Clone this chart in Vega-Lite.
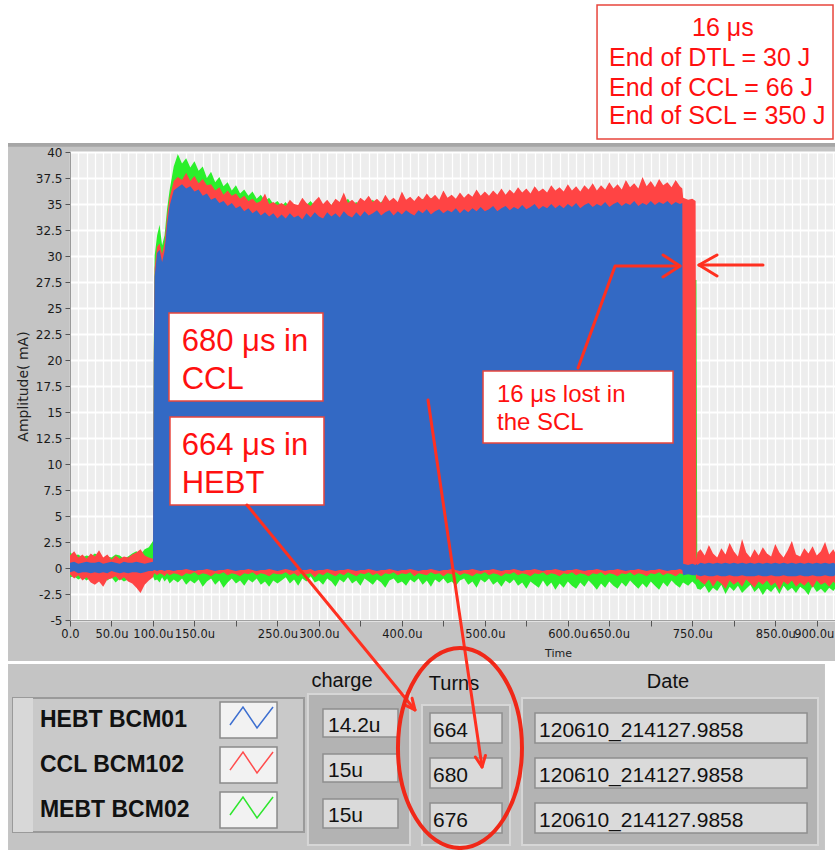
{
  "$schema": "https://vega.github.io/schema/vega-lite/v6.json",
  "width": 765,
  "height": 468,
  "autosize": {"type": "none"},
  "padding": {"left": 70, "top": 152, "right": 0, "bottom": 230},
  "background": "#c4c4c4",
  "config": {"view": {"fill": "#ededed", "stroke": null}},
  "datasets": {
    "g": [
      {"x":0,"y":1.5,"y2":-0.9},{"x":5,"y":1.2,"y2":-0.8},{"x":10,"y":1.3,"y2":-1.1},{"x":15,"y":1.0,"y2":-0.9},{"x":20,"y":1.2,"y2":-1.2},
      {"x":25,"y":1.1,"y2":-0.9},{"x":30,"y":1.4,"y2":-1.0},{"x":35,"y":1.2,"y2":-1.3},{"x":40,"y":0.9,"y2":-1.0},{"x":45,"y":1.1,"y2":-1.2},
      {"x":50,"y":1.0,"y2":-0.9},{"x":55,"y":1.3,"y2":-1.4},{"x":60,"y":1.2,"y2":-1.0},{"x":65,"y":0.9,"y2":-1.3},{"x":70,"y":1.1,"y2":-1.1},
      {"x":75,"y":1.4,"y2":-1.2},{"x":80,"y":1.6,"y2":-1.4},{"x":85,"y":1.3,"y2":-1.1},{"x":90,"y":1.8,"y2":-1.3},{"x":95,"y":2.0,"y2":-1.0},
      {"x":100,"y":2.6,"y2":-0.8},{"x":101,"y":22.0,"y2":-1.0},{"x":102,"y":30.0,"y2":-1.2},{"x":105,"y":32.0,"y2":-1.1},{"x":108,"y":33.0,"y2":-1.4},
      {"x":111,"y":31.0,"y2":-0.9},{"x":114,"y":32.0,"y2":-1.3},{"x":117,"y":34.5,"y2":-1.0},{"x":120,"y":36.3,"y2":-1.5},{"x":125,"y":38.6,"y2":-1.1},
      {"x":130,"y":39.8,"y2":-1.4},{"x":135,"y":38.9,"y2":-1.0},{"x":140,"y":39.4,"y2":-1.6},{"x":145,"y":38.5,"y2":-1.2},{"x":150,"y":39.1,"y2":-1.5},
      {"x":155,"y":38.2,"y2":-1.1},{"x":160,"y":38.6,"y2":-1.8},{"x":165,"y":37.5,"y2":-1.3},{"x":170,"y":38.1,"y2":-1.0},{"x":175,"y":37.1,"y2":-1.6},
      {"x":180,"y":37.6,"y2":-1.2},{"x":185,"y":36.7,"y2":-1.9},{"x":190,"y":37.1,"y2":-1.4},{"x":195,"y":36.3,"y2":-1.0},{"x":200,"y":36.8,"y2":-1.5},
      {"x":205,"y":36.0,"y2":-1.2},{"x":210,"y":36.4,"y2":-1.7},{"x":215,"y":35.8,"y2":-1.1},{"x":220,"y":36.2,"y2":-1.4},{"x":225,"y":35.5,"y2":-1.0},
      {"x":230,"y":35.9,"y2":-1.6},{"x":235,"y":35.3,"y2":-1.3},{"x":240,"y":35.6,"y2":-1.8},{"x":245,"y":35.0,"y2":-1.2},{"x":250,"y":35.3,"y2":-1.5},
      {"x":255,"y":34.8,"y2":-1.2},{"x":260,"y":35.2,"y2":-0.9},{"x":265,"y":34.6,"y2":-1.5},{"x":270,"y":35.0,"y2":-1.1},{"x":275,"y":34.7,"y2":-1.7},
      {"x":280,"y":35.1,"y2":-1.0},{"x":285,"y":34.9,"y2":-1.3},{"x":290,"y":35.3,"y2":-0.8},{"x":295,"y":34.8,"y2":-1.4},{"x":300,"y":35.0,"y2":-1.2},
      {"x":305,"y":34.7,"y2":-1.6},{"x":310,"y":35.2,"y2":-1.0},{"x":315,"y":34.9,"y2":-1.3},{"x":320,"y":35.4,"y2":-1.8},{"x":325,"y":34.8,"y2":-1.1},
      {"x":330,"y":35.1,"y2":-1.4},{"x":335,"y":35.5,"y2":-0.9},{"x":340,"y":34.9,"y2":-1.5},{"x":345,"y":35.2,"y2":-1.2},{"x":350,"y":34.8,"y2":-1.7},
      {"x":355,"y":35.3,"y2":-1.0},{"x":360,"y":35.0,"y2":-1.3},{"x":365,"y":35.4,"y2":-1.6},{"x":370,"y":34.9,"y2":-1.1},{"x":375,"y":35.2,"y2":-1.4},
      {"x":380,"y":35.5,"y2":-1.9},{"x":385,"y":35.0,"y2":-1.2},{"x":390,"y":35.3,"y2":-1.0},{"x":395,"y":35.1,"y2":-1.5},{"x":400,"y":35.4,"y2":-1.3},
      {"x":405,"y":35.0,"y2":-1.7},{"x":410,"y":35.6,"y2":-1.1},{"x":415,"y":35.2,"y2":-1.4},{"x":420,"y":35.0,"y2":-1.0},{"x":425,"y":35.5,"y2":-1.6},
      {"x":430,"y":35.2,"y2":-1.2},{"x":435,"y":35.6,"y2":-1.8},{"x":440,"y":35.3,"y2":-1.1},{"x":445,"y":35.1,"y2":-1.4},{"x":450,"y":35.7,"y2":-1.0},
      {"x":455,"y":35.3,"y2":-1.5},{"x":460,"y":35.5,"y2":-1.3},{"x":465,"y":35.2,"y2":-1.7},{"x":470,"y":35.8,"y2":-1.2},{"x":475,"y":35.4,"y2":-1.0},
      {"x":480,"y":35.6,"y2":-1.6},{"x":485,"y":35.3,"y2":-1.3},{"x":490,"y":35.7,"y2":-1.9},{"x":495,"y":35.5,"y2":-1.1},{"x":500,"y":35.9,"y2":-1.4},
      {"x":505,"y":35.4,"y2":-1.0},{"x":510,"y":35.7,"y2":-1.6},{"x":515,"y":35.5,"y2":-1.3},{"x":520,"y":35.8,"y2":-1.8},{"x":525,"y":35.6,"y2":-1.2},
      {"x":530,"y":35.9,"y2":-1.5},{"x":535,"y":35.5,"y2":-1.1},{"x":540,"y":36.0,"y2":-1.7},{"x":545,"y":35.7,"y2":-1.4},{"x":550,"y":35.9,"y2":-2.0},
      {"x":555,"y":35.6,"y2":-1.3},{"x":560,"y":36.1,"y2":-1.6},{"x":565,"y":35.8,"y2":-1.9},{"x":570,"y":36.0,"y2":-1.2},{"x":575,"y":35.7,"y2":-1.8},
      {"x":580,"y":36.2,"y2":-1.4},{"x":585,"y":35.9,"y2":-2.1},{"x":590,"y":36.1,"y2":-1.5},{"x":595,"y":35.8,"y2":-1.9},{"x":600,"y":36.2,"y2":-1.3},
      {"x":605,"y":35.9,"y2":-1.7},{"x":610,"y":36.3,"y2":-2.0},{"x":615,"y":35.8,"y2":-1.4},{"x":620,"y":36.1,"y2":-1.8},{"x":625,"y":36.0,"y2":-1.2},
      {"x":630,"y":36.3,"y2":-1.6},{"x":635,"y":35.9,"y2":-2.1},{"x":640,"y":36.2,"y2":-1.5},{"x":645,"y":36.0,"y2":-1.9},{"x":650,"y":36.4,"y2":-1.3},
      {"x":655,"y":36.0,"y2":-1.7},{"x":660,"y":36.3,"y2":-2.0},{"x":665,"y":35.9,"y2":-1.4},{"x":670,"y":36.5,"y2":-1.8},{"x":675,"y":36.1,"y2":-1.2},
      {"x":680,"y":36.4,"y2":-1.6},{"x":685,"y":36.0,"y2":-2.0},{"x":690,"y":36.3,"y2":-1.5},{"x":695,"y":36.1,"y2":-1.9},{"x":700,"y":36.5,"y2":-1.3},
      {"x":705,"y":36.0,"y2":-1.7},{"x":710,"y":36.3,"y2":-2.1},{"x":715,"y":36.2,"y2":-1.4},{"x":720,"y":36.4,"y2":-1.8},{"x":725,"y":36.0,"y2":-1.2},
      {"x":730,"y":36.3,"y2":-1.6},{"x":735,"y":35.9,"y2":-1.9},{"x":738,"y":35.7,"y2":-1.5},{"x":739,"y":35.4,"y2":-1.4},{"x":745,"y":28.0,"y2":-1.7},
      {"x":750,"y":27.8,"y2":-1.3},{"x":754,"y":27.7,"y2":-1.6},{"x":755,"y":27.7,"y2":-1.8},{"x":756,"y":0.4,"y2":-2.0},{"x":760,"y":0.6,"y2":-2.1},
      {"x":765,"y":0.8,"y2":-1.7},{"x":770,"y":0.5,"y2":-2.4},{"x":775,"y":0.7,"y2":-1.9},{"x":780,"y":0.9,"y2":-2.2},{"x":785,"y":0.6,"y2":-1.6},
      {"x":790,"y":0.8,"y2":-2.5},{"x":795,"y":0.5,"y2":-1.8},{"x":800,"y":0.7,"y2":-2.2},{"x":805,"y":0.9,"y2":-1.7},{"x":810,"y":0.6,"y2":-2.4},
      {"x":815,"y":0.8,"y2":-2.0},{"x":820,"y":0.5,"y2":-1.6},{"x":825,"y":0.7,"y2":-2.3},{"x":830,"y":0.9,"y2":-1.9},{"x":835,"y":0.6,"y2":-2.6},
      {"x":840,"y":0.8,"y2":-2.0},{"x":845,"y":0.5,"y2":-2.3},{"x":850,"y":0.7,"y2":-1.8},{"x":855,"y":0.9,"y2":-2.5},{"x":860,"y":0.6,"y2":-1.7},
      {"x":865,"y":0.8,"y2":-2.2},{"x":870,"y":0.5,"y2":-1.9},{"x":875,"y":0.7,"y2":-2.4},{"x":880,"y":0.9,"y2":-1.8},{"x":885,"y":0.6,"y2":-2.1},
      {"x":890,"y":0.8,"y2":-2.6},{"x":895,"y":0.5,"y2":-1.7},{"x":900,"y":0.7,"y2":-2.3},{"x":905,"y":0.9,"y2":-2.0},{"x":910,"y":0.6,"y2":-2.4},
      {"x":915,"y":0.8,"y2":-1.9},{"x":920,"y":0.7,"y2":-2.2},{"x":922,"y":0.6,"y2":-2.0}
    ],
    "r": [
      {"x":0,"y":1.2,"y2":-0.6},{"x":5,"y":1.6,"y2":-1.0},{"x":10,"y":1.0,"y2":-0.7},{"x":15,"y":1.3,"y2":-1.2},{"x":20,"y":0.9,"y2":-0.9},
      {"x":25,"y":1.4,"y2":-1.4},{"x":30,"y":1.1,"y2":-1.6},{"x":35,"y":1.7,"y2":-1.3},{"x":40,"y":1.0,"y2":-1.8},{"x":45,"y":1.3,"y2":-1.1},
      {"x":50,"y":0.8,"y2":-1.0},{"x":55,"y":1.2,"y2":-0.8},{"x":60,"y":0.9,"y2":-1.2},{"x":65,"y":1.1,"y2":-0.9},{"x":70,"y":1.0,"y2":-1.3},
      {"x":75,"y":1.3,"y2":-1.5},{"x":80,"y":1.5,"y2":-1.9},{"x":85,"y":1.8,"y2":-2.4},{"x":90,"y":1.2,"y2":-1.6},{"x":95,"y":1.0,"y2":-1.2},
      {"x":100,"y":0.9,"y2":-0.9},{"x":101,"y":21.0,"y2":-0.6},{"x":102,"y":28.8,"y2":-0.5},{"x":105,"y":30.9,"y2":-0.7},{"x":108,"y":31.2,"y2":-0.5},
      {"x":111,"y":30.2,"y2":-0.6},{"x":114,"y":31.3,"y2":-0.8},{"x":117,"y":33.8,"y2":-0.5},{"x":120,"y":35.6,"y2":-0.7},{"x":125,"y":37.2,"y2":-0.5},
      {"x":130,"y":37.6,"y2":-0.6},{"x":135,"y":37.3,"y2":-0.8},{"x":140,"y":38.0,"y2":-0.5},{"x":145,"y":37.2,"y2":-0.6},{"x":150,"y":37.7,"y2":-0.4},
      {"x":155,"y":37.0,"y2":-0.7},{"x":160,"y":37.4,"y2":-0.5},{"x":165,"y":36.8,"y2":-0.6},{"x":170,"y":36.9,"y2":-0.8},{"x":175,"y":36.3,"y2":-0.5},
      {"x":180,"y":36.6,"y2":-0.6},{"x":185,"y":35.9,"y2":-0.4},{"x":190,"y":36.3,"y2":-0.7},{"x":195,"y":35.8,"y2":-0.5},{"x":200,"y":36.0,"y2":-0.6},
      {"x":205,"y":35.5,"y2":-0.8},{"x":210,"y":35.8,"y2":-0.5},{"x":215,"y":35.3,"y2":-0.6},{"x":220,"y":35.5,"y2":-0.4},{"x":225,"y":35.1,"y2":-0.7},
      {"x":230,"y":35.3,"y2":-0.5},{"x":235,"y":36.0,"y2":-0.6},{"x":240,"y":35.0,"y2":-0.8},{"x":245,"y":35.2,"y2":-0.5},{"x":250,"y":34.9,"y2":-0.6},
      {"x":255,"y":35.1,"y2":-0.6},{"x":260,"y":34.8,"y2":-0.4},{"x":265,"y":35.4,"y2":-0.7},{"x":270,"y":35.0,"y2":-0.5},{"x":275,"y":34.9,"y2":-0.8},
      {"x":280,"y":35.6,"y2":-0.4},{"x":285,"y":35.1,"y2":-0.6},{"x":290,"y":34.8,"y2":-0.5},{"x":295,"y":35.3,"y2":-0.9},{"x":300,"y":35.7,"y2":-0.5},
      {"x":305,"y":35.0,"y2":-0.7},{"x":310,"y":35.4,"y2":-0.4},{"x":315,"y":34.9,"y2":-0.6},{"x":320,"y":35.5,"y2":-0.8},{"x":325,"y":35.2,"y2":-0.5},
      {"x":330,"y":36.1,"y2":-0.7},{"x":335,"y":35.1,"y2":-0.4},{"x":340,"y":35.4,"y2":-0.6},{"x":345,"y":35.0,"y2":-0.8},{"x":350,"y":35.6,"y2":-0.5},
      {"x":355,"y":35.3,"y2":-0.6},{"x":360,"y":35.8,"y2":-0.4},{"x":365,"y":35.2,"y2":-0.7},{"x":370,"y":35.5,"y2":-0.5},{"x":375,"y":35.1,"y2":-0.8},
      {"x":380,"y":35.9,"y2":-0.5},{"x":385,"y":35.3,"y2":-0.6},{"x":390,"y":35.6,"y2":-0.4},{"x":395,"y":35.2,"y2":-0.7},{"x":400,"y":36.2,"y2":-0.5},
      {"x":405,"y":35.4,"y2":-0.6},{"x":410,"y":35.7,"y2":-0.4},{"x":415,"y":35.3,"y2":-0.8},{"x":420,"y":35.8,"y2":-0.5},{"x":425,"y":35.4,"y2":-0.6},
      {"x":430,"y":36.0,"y2":-0.7},{"x":435,"y":35.5,"y2":-0.4},{"x":440,"y":35.9,"y2":-0.6},{"x":445,"y":35.4,"y2":-0.5},{"x":450,"y":36.3,"y2":-0.8},
      {"x":455,"y":35.6,"y2":-0.5},{"x":460,"y":35.9,"y2":-0.6},{"x":465,"y":35.5,"y2":-0.4},{"x":470,"y":36.1,"y2":-0.7},{"x":475,"y":35.6,"y2":-0.5},
      {"x":480,"y":36.0,"y2":-0.6},{"x":485,"y":35.7,"y2":-0.8},{"x":490,"y":36.4,"y2":-0.5},{"x":495,"y":35.8,"y2":-0.6},{"x":500,"y":36.2,"y2":-0.4},
      {"x":505,"y":35.8,"y2":-0.7},{"x":510,"y":36.3,"y2":-0.5},{"x":515,"y":35.9,"y2":-0.6},{"x":520,"y":36.5,"y2":-0.8},{"x":525,"y":35.9,"y2":-0.5},
      {"x":530,"y":36.4,"y2":-0.6},{"x":535,"y":36.0,"y2":-0.4},{"x":540,"y":36.6,"y2":-0.7},{"x":545,"y":36.1,"y2":-0.5},{"x":550,"y":36.5,"y2":-0.6},
      {"x":555,"y":36.0,"y2":-0.8},{"x":560,"y":36.7,"y2":-0.5},{"x":565,"y":36.2,"y2":-0.6},{"x":570,"y":36.5,"y2":-0.4},{"x":575,"y":36.1,"y2":-0.7},
      {"x":580,"y":36.8,"y2":-0.5},{"x":585,"y":36.3,"y2":-0.6},{"x":590,"y":36.6,"y2":-0.8},{"x":595,"y":36.2,"y2":-0.5},{"x":600,"y":36.9,"y2":-0.6},
      {"x":605,"y":36.3,"y2":-0.4},{"x":610,"y":36.7,"y2":-0.7},{"x":615,"y":36.2,"y2":-0.5},{"x":620,"y":36.8,"y2":-0.6},{"x":625,"y":36.4,"y2":-0.8},
      {"x":630,"y":37.0,"y2":-0.5},{"x":635,"y":36.3,"y2":-0.6},{"x":640,"y":36.8,"y2":-0.4},{"x":645,"y":36.4,"y2":-0.7},{"x":650,"y":37.1,"y2":-0.5},
      {"x":655,"y":36.5,"y2":-0.6},{"x":660,"y":36.9,"y2":-0.8},{"x":665,"y":36.4,"y2":-0.5},{"x":670,"y":37.3,"y2":-0.6},{"x":675,"y":36.6,"y2":-0.4},
      {"x":680,"y":37.0,"y2":-0.7},{"x":685,"y":36.5,"y2":-0.5},{"x":690,"y":37.6,"y2":-0.6},{"x":695,"y":36.7,"y2":-0.8},{"x":700,"y":37.2,"y2":-0.5},
      {"x":705,"y":36.6,"y2":-0.6},{"x":710,"y":37.4,"y2":-0.4},{"x":715,"y":36.8,"y2":-0.7},{"x":720,"y":37.1,"y2":-0.5},{"x":725,"y":36.6,"y2":-0.6},
      {"x":730,"y":37.3,"y2":-0.8},{"x":735,"y":36.7,"y2":-0.5},{"x":738,"y":36.5,"y2":-0.6},{"x":739,"y":35.6,"y2":-0.5},{"x":745,"y":35.4,"y2":-0.6},
      {"x":750,"y":35.5,"y2":-0.4},{"x":754,"y":35.3,"y2":-0.6},{"x":755,"y":0.8,"y2":-1.2},{"x":756,"y":1.5,"y2":-1.0},{"x":760,"y":1.8,"y2":-1.3},
      {"x":765,"y":1.2,"y2":-1.6},{"x":770,"y":2.2,"y2":-1.1},{"x":775,"y":1.4,"y2":-1.8},{"x":780,"y":1.0,"y2":-1.2},{"x":785,"y":1.9,"y2":-1.5},
      {"x":790,"y":1.3,"y2":-2.0},{"x":795,"y":2.4,"y2":-1.2},{"x":800,"y":1.6,"y2":-1.6},{"x":805,"y":1.1,"y2":-1.3},{"x":810,"y":2.8,"y2":-1.8},
      {"x":815,"y":1.5,"y2":-1.1},{"x":820,"y":1.0,"y2":-1.5},{"x":825,"y":1.8,"y2":-1.9},{"x":830,"y":1.2,"y2":-1.3},{"x":835,"y":2.0,"y2":-1.6},
      {"x":840,"y":1.4,"y2":-1.2},{"x":845,"y":1.1,"y2":-1.7},{"x":850,"y":2.3,"y2":-1.4},{"x":855,"y":1.5,"y2":-2.1},{"x":860,"y":1.0,"y2":-1.3},
      {"x":865,"y":1.7,"y2":-1.6},{"x":870,"y":2.6,"y2":-1.2},{"x":875,"y":1.3,"y2":-1.8},{"x":880,"y":1.1,"y2":-1.4},{"x":885,"y":1.9,"y2":-1.7},
      {"x":890,"y":1.4,"y2":-1.3},{"x":895,"y":2.1,"y2":-1.9},{"x":900,"y":1.2,"y2":-1.2},{"x":905,"y":1.6,"y2":-1.6},{"x":910,"y":2.5,"y2":-1.4},
      {"x":915,"y":1.3,"y2":-1.8},{"x":920,"y":1.8,"y2":-1.3},{"x":922,"y":1.5,"y2":-1.5}
    ],
    "b": [
      {"x":0,"y":0.5,"y2":-0.4},{"x":5,"y":0.6,"y2":-0.3},{"x":10,"y":0.4,"y2":-0.5},{"x":15,"y":0.5,"y2":-0.4},{"x":20,"y":0.6,"y2":-0.4},
      {"x":25,"y":0.5,"y2":-0.5},{"x":30,"y":0.5,"y2":-0.4},{"x":35,"y":0.6,"y2":-0.5},{"x":40,"y":0.4,"y2":-0.4},{"x":45,"y":0.5,"y2":-0.5},
      {"x":50,"y":0.6,"y2":-0.3},{"x":55,"y":0.5,"y2":-0.4},{"x":60,"y":0.4,"y2":-0.5},{"x":65,"y":0.6,"y2":-0.4},{"x":70,"y":0.5,"y2":-0.5},
      {"x":75,"y":0.5,"y2":-0.4},{"x":80,"y":0.6,"y2":-0.4},{"x":85,"y":0.5,"y2":-0.5},{"x":90,"y":0.4,"y2":-0.4},{"x":95,"y":0.5,"y2":-0.3},
      {"x":100,"y":0.6,"y2":-0.3},{"x":101,"y":20.0,"y2":-0.2},{"x":102,"y":28.0,"y2":-0.2},{"x":105,"y":30.3,"y2":-0.3},{"x":108,"y":30.6,"y2":-0.2},
      {"x":111,"y":29.4,"y2":-0.2},{"x":114,"y":30.5,"y2":-0.3},{"x":117,"y":33.0,"y2":-0.2},{"x":120,"y":34.8,"y2":-0.2},{"x":125,"y":36.3,"y2":-0.3},
      {"x":130,"y":36.6,"y2":-0.2},{"x":135,"y":36.9,"y2":-0.2},{"x":140,"y":36.5,"y2":-0.1},{"x":145,"y":36.7,"y2":-0.2},{"x":150,"y":36.2,"y2":-0.3},
      {"x":155,"y":36.4,"y2":-0.2},{"x":160,"y":35.8,"y2":-0.2},{"x":165,"y":36.0,"y2":-0.1},{"x":170,"y":35.4,"y2":-0.2},{"x":175,"y":35.6,"y2":-0.3},
      {"x":180,"y":35.1,"y2":-0.2},{"x":185,"y":35.3,"y2":-0.2},{"x":190,"y":34.8,"y2":-0.1},{"x":195,"y":35.1,"y2":-0.2},{"x":200,"y":34.6,"y2":-0.3},
      {"x":205,"y":34.8,"y2":-0.2},{"x":210,"y":34.3,"y2":-0.2},{"x":215,"y":34.6,"y2":-0.1},{"x":220,"y":34.1,"y2":-0.2},{"x":225,"y":34.4,"y2":-0.3},
      {"x":230,"y":33.9,"y2":-0.2},{"x":235,"y":34.2,"y2":-0.2},{"x":240,"y":33.8,"y2":-0.1},{"x":245,"y":34.1,"y2":-0.2},{"x":250,"y":33.6,"y2":-0.3},
      {"x":255,"y":34.0,"y2":-0.2},{"x":260,"y":33.6,"y2":-0.1},{"x":265,"y":34.1,"y2":-0.2},{"x":270,"y":33.7,"y2":-0.3},{"x":275,"y":33.9,"y2":-0.1},
      {"x":280,"y":33.5,"y2":-0.2},{"x":285,"y":34.1,"y2":-0.2},{"x":290,"y":33.7,"y2":-0.1},{"x":295,"y":34.2,"y2":-0.3},{"x":300,"y":33.8,"y2":-0.2},
      {"x":305,"y":33.6,"y2":-0.2},{"x":310,"y":34.2,"y2":-0.1},{"x":315,"y":33.8,"y2":-0.2},{"x":320,"y":34.1,"y2":-0.3},{"x":325,"y":33.7,"y2":-0.2},
      {"x":330,"y":34.3,"y2":-0.2},{"x":335,"y":33.9,"y2":-0.1},{"x":340,"y":33.7,"y2":-0.2},{"x":345,"y":34.2,"y2":-0.3},{"x":350,"y":33.8,"y2":-0.2},
      {"x":355,"y":34.3,"y2":-0.2},{"x":360,"y":33.9,"y2":-0.1},{"x":365,"y":34.1,"y2":-0.2},{"x":370,"y":34.4,"y2":-0.3},{"x":375,"y":33.9,"y2":-0.2},
      {"x":380,"y":34.2,"y2":-0.2},{"x":385,"y":34.4,"y2":-0.1},{"x":390,"y":33.9,"y2":-0.2},{"x":395,"y":34.3,"y2":-0.3},{"x":400,"y":34.0,"y2":-0.2},
      {"x":405,"y":34.4,"y2":-0.2},{"x":410,"y":34.1,"y2":-0.1},{"x":415,"y":33.9,"y2":-0.2},{"x":420,"y":34.4,"y2":-0.3},{"x":425,"y":34.1,"y2":-0.2},
      {"x":430,"y":34.5,"y2":-0.2},{"x":435,"y":34.0,"y2":-0.1},{"x":440,"y":34.3,"y2":-0.2},{"x":445,"y":34.5,"y2":-0.3},{"x":450,"y":34.1,"y2":-0.2},
      {"x":455,"y":34.4,"y2":-0.2},{"x":460,"y":34.2,"y2":-0.1},{"x":465,"y":34.6,"y2":-0.2},{"x":470,"y":34.1,"y2":-0.3},{"x":475,"y":34.5,"y2":-0.2},
      {"x":480,"y":34.2,"y2":-0.2},{"x":485,"y":34.6,"y2":-0.1},{"x":490,"y":34.3,"y2":-0.2},{"x":495,"y":34.7,"y2":-0.3},{"x":500,"y":34.3,"y2":-0.2},
      {"x":505,"y":34.5,"y2":-0.2},{"x":510,"y":34.8,"y2":-0.1},{"x":515,"y":34.3,"y2":-0.2},{"x":520,"y":34.6,"y2":-0.3},{"x":525,"y":34.8,"y2":-0.2},
      {"x":530,"y":34.4,"y2":-0.2},{"x":535,"y":34.7,"y2":-0.1},{"x":540,"y":34.5,"y2":-0.2},{"x":545,"y":34.9,"y2":-0.3},{"x":550,"y":34.5,"y2":-0.2},
      {"x":555,"y":34.7,"y2":-0.2},{"x":560,"y":35.0,"y2":-0.1},{"x":565,"y":34.5,"y2":-0.2},{"x":570,"y":34.8,"y2":-0.3},{"x":575,"y":34.6,"y2":-0.2},
      {"x":580,"y":35.0,"y2":-0.2},{"x":585,"y":34.6,"y2":-0.1},{"x":590,"y":34.9,"y2":-0.2},{"x":595,"y":34.6,"y2":-0.3},{"x":600,"y":35.0,"y2":-0.2},
      {"x":605,"y":34.7,"y2":-0.2},{"x":610,"y":35.1,"y2":-0.1},{"x":615,"y":34.6,"y2":-0.2},{"x":620,"y":34.9,"y2":-0.3},{"x":625,"y":35.1,"y2":-0.2},
      {"x":630,"y":34.7,"y2":-0.2},{"x":635,"y":35.0,"y2":-0.1},{"x":640,"y":34.8,"y2":-0.2},{"x":645,"y":35.2,"y2":-0.3},{"x":650,"y":34.7,"y2":-0.2},
      {"x":655,"y":35.0,"y2":-0.2},{"x":660,"y":35.2,"y2":-0.1},{"x":665,"y":34.8,"y2":-0.2},{"x":670,"y":35.1,"y2":-0.3},{"x":675,"y":34.9,"y2":-0.2},
      {"x":680,"y":35.3,"y2":-0.2},{"x":685,"y":34.8,"y2":-0.1},{"x":690,"y":35.1,"y2":-0.2},{"x":695,"y":34.9,"y2":-0.3},{"x":700,"y":35.3,"y2":-0.2},
      {"x":705,"y":34.9,"y2":-0.2},{"x":710,"y":35.2,"y2":-0.1},{"x":715,"y":35.0,"y2":-0.2},{"x":720,"y":35.3,"y2":-0.3},{"x":725,"y":34.9,"y2":-0.2},
      {"x":730,"y":35.2,"y2":-0.2},{"x":735,"y":35.0,"y2":-0.1},{"x":738,"y":35.1,"y2":-0.2},{"x":739,"y":0.4,"y2":-0.7},{"x":745,"y":0.3,"y2":-0.6},
      {"x":750,"y":0.4,"y2":-0.7},{"x":754,"y":0.3,"y2":-0.7},{"x":755,"y":0.4,"y2":-0.6},{"x":756,"y":0.3,"y2":-0.7},{"x":760,"y":0.5,"y2":-0.8},
      {"x":765,"y":0.4,"y2":-0.7},{"x":770,"y":0.5,"y2":-0.8},{"x":775,"y":0.4,"y2":-0.8},{"x":780,"y":0.5,"y2":-0.7},{"x":785,"y":0.4,"y2":-0.8},
      {"x":790,"y":0.5,"y2":-0.8},{"x":795,"y":0.4,"y2":-0.7},{"x":800,"y":0.5,"y2":-0.8},{"x":805,"y":0.4,"y2":-0.8},{"x":810,"y":0.5,"y2":-0.7},
      {"x":815,"y":0.4,"y2":-0.8},{"x":820,"y":0.5,"y2":-0.8},{"x":825,"y":0.4,"y2":-0.8},{"x":830,"y":0.5,"y2":-0.7},{"x":835,"y":0.4,"y2":-0.8},
      {"x":840,"y":0.5,"y2":-0.8},{"x":845,"y":0.4,"y2":-0.7},{"x":850,"y":0.5,"y2":-0.8},{"x":855,"y":0.4,"y2":-0.8},{"x":860,"y":0.5,"y2":-0.7},
      {"x":865,"y":0.4,"y2":-0.8},{"x":870,"y":0.5,"y2":-0.8},{"x":875,"y":0.4,"y2":-0.8},{"x":880,"y":0.5,"y2":-0.7},{"x":885,"y":0.4,"y2":-0.8},
      {"x":890,"y":0.5,"y2":-0.8},{"x":895,"y":0.4,"y2":-0.7},{"x":900,"y":0.5,"y2":-0.8},{"x":905,"y":0.4,"y2":-0.8},{"x":910,"y":0.5,"y2":-0.7},
      {"x":915,"y":0.4,"y2":-0.8},{"x":920,"y":0.5,"y2":-0.8},{"x":922,"y":0.4,"y2":-0.7}
    ],
    "white": [
      {"x":-90,"x2":930,"y":40.87,"y2":56},
      {"x":-90,"x2":930,"y":-8.94,"y2":-9.23},
      {"x":909.9,"x2":930,"y":-9.23,"y2":-28},
      {"x":-90,"x2":-74.7,"y":40.87,"y2":-28}
    ],
    "border": [
      {"x":-74.7,"x2":930,"y":40.87,"y2":40.5}
    ],
    "leg": [
      {"x":-68.7,"x2":282.0,"y":-12.5,"y2":-25.38}
    ],
    "legstrip": [
      {"x":-68.7,"x2":-44.6,"y":-12.5,"y2":-25.38}
    ],
    "frames": [
      {"x":286.8,"x2":409.8,"y":-12.12,"y2":-26.63},
      {"x":424.2,"x2":530.3,"y":-13.17,"y2":-26.63},
      {"x":544.8,"x2":901.5,"y":-12.5,"y2":-26.63}
    ],
    "cells": [
      {"x":304.9,"x2":395.3,"y":-13.56,"y2":-16.25},
      {"x":304.9,"x2":395.3,"y":-17.88,"y2":-20.58},
      {"x":304.9,"x2":395.3,"y":-22.21,"y2":-25.0},
      {"x":433.9,"x2":520.7,"y":-13.94,"y2":-16.83},
      {"x":433.9,"x2":520.7,"y":-18.27,"y2":-21.15},
      {"x":433.9,"x2":520.7,"y":-22.6,"y2":-25.48},
      {"x":560.4,"x2":888.3,"y":-13.94,"y2":-16.83},
      {"x":560.4,"x2":888.3,"y":-18.27,"y2":-21.15},
      {"x":560.4,"x2":888.3,"y":-22.6,"y2":-25.48}
    ],
    "swatch": [
      {"x":180.8,"x2":249.5,"y":-12.88,"y2":-16.35},
      {"x":180.8,"x2":249.5,"y":-17.21,"y2":-20.67},
      {"x":180.8,"x2":249.5,"y":-21.54,"y2":-25.0}
    ],
    "zig": [
      {"s":"HEBT BCM01","o":1,"x":192.8,"y":-15.10},
      {"s":"HEBT BCM01","o":2,"x":208.5,"y":-13.37},
      {"s":"HEBT BCM01","o":3,"x":225.4,"y":-15.38},
      {"s":"HEBT BCM01","o":4,"x":244.7,"y":-13.37},
      {"s":"CCL BCM102","o":1,"x":192.8,"y":-19.43},
      {"s":"CCL BCM102","o":2,"x":208.5,"y":-17.70},
      {"s":"CCL BCM102","o":3,"x":225.4,"y":-19.71},
      {"s":"CCL BCM102","o":4,"x":244.7,"y":-17.70},
      {"s":"MEBT BCM02","o":1,"x":192.8,"y":-23.75},
      {"s":"MEBT BCM02","o":2,"x":208.5,"y":-22.02},
      {"s":"MEBT BCM02","o":3,"x":225.4,"y":-24.03},
      {"s":"MEBT BCM02","o":4,"x":244.7,"y":-22.02}
    ],
    "lab": [
      {"x":-36.2,"y":-15.29,"label":"HEBT BCM01"},
      {"x":-36.2,"y":-19.62,"label":"CCL BCM102"},
      {"x":-36.2,"y":-23.94,"label":"MEBT BCM02"}
    ],
    "hdr": [
      {"x":327.8,"y":-11.44,"label":"charge"},
      {"x":462.8,"y":-11.73,"label":"Turns"},
      {"x":720.7,"y":-11.54,"label":"Date"}
    ],
    "val": [
      {"x":310.9,"y":-15.77,"label":"14.2u"},
      {"x":310.9,"y":-20.10,"label":"15u"},
      {"x":310.9,"y":-24.42,"label":"15u"},
      {"x":437.5,"y":-16.25,"label":"664"},
      {"x":437.5,"y":-20.58,"label":"680"},
      {"x":437.5,"y":-24.9,"label":"676"},
      {"x":565.3,"y":-16.25,"label":"120610_214127.9858"},
      {"x":565.3,"y":-20.58,"label":"120610_214127.9858"},
      {"x":565.3,"y":-24.9,"label":"120610_214127.9858"}
    ],
    "box": [
      {"x":119.3,"x2":304.9,"y":24.52,"y2":16.06},
      {"x":120.5,"x2":306.1,"y":14.52,"y2":6.06},
      {"x":497.8,"x2":726.8,"y":18.94,"y2":12.02},
      {"x":635.2,"x2":919.6,"y":54.13,"y2":41.25}
    ],
    "t31": [
      {"x":134.6,"y":20.87,"label":"680 μs in"},
      {"x":134.6,"y":17.21,"label":"CCL"},
      {"x":134.6,"y":10.87,"label":"664 μs in"},
      {"x":134.6,"y":7.21,"label":"HEBT"}
    ],
    "t24": [
      {"x":514.6,"y":15.96,"label":"16 μs lost in"},
      {"x":514.6,"y":13.27,"label":"the SCL"}
    ],
    "t25": [
      {"x":749.7,"y":51.15,"label":"16 μs"},
      {"x":649.6,"y":48.27,"label":"End of DTL = 30 J"},
      {"x":649.6,"y":45.38,"label":"End of CCL = 66 J"},
      {"x":649.6,"y":42.69,"label":"End of SCL = 350 J"}
    ],
    "arr": [
      {"seg":"A","o":1,"x":213.3,"y":6.06},
      {"seg":"A","o":2,"x":415.8,"y":-13.65},
      {"seg":"Ah","o":1,"x":412.3,"y":-12.53},
      {"seg":"Ah","o":2,"x":415.8,"y":-13.65},
      {"seg":"Ah","o":3,"x":402.8,"y":-13.14},
      {"seg":"B","o":1,"x":431.5,"y":16.15},
      {"seg":"B","o":2,"x":496.6,"y":-19.13},
      {"seg":"Bh","o":1,"x":500.7,"y":-18.03},
      {"seg":"Bh","o":2,"x":496.6,"y":-19.13},
      {"seg":"Bh","o":3,"x":488.6,"y":-18.17},
      {"seg":"C","o":1,"x":612.3,"y":19.23},
      {"seg":"C","o":2,"x":656.9,"y":29.04},
      {"seg":"C","o":3,"x":735.2,"y":29.04},
      {"seg":"Ch","o":1,"x":714.7,"y":30.10},
      {"seg":"Ch","o":2,"x":735.2,"y":29.04},
      {"seg":"Ch","o":3,"x":714.7,"y":27.98},
      {"seg":"D","o":1,"x":835.2,"y":29.13},
      {"seg":"D","o":2,"x":758.1,"y":29.13},
      {"seg":"Dh","o":1,"x":779.8,"y":30.10},
      {"seg":"Dh","o":2,"x":758.1,"y":29.13},
      {"seg":"Dh","o":3,"x":779.8,"y":28.08}
    ],
    "ell": [
      {"x":470.0,"y":-17.31}
    ]
  },
  "encoding": {
    "x": {
      "field": "x", "type": "quantitative",
      "scale": {"domain": [0, 922], "nice": false, "zero": false},
      "axis": {
        "title": "Time",
        "values": [0,10,20,30,40,50,60,70,80,90,100,110,120,130,140,150,160,170,180,190,200,210,220,230,240,250,260,270,280,290,300,310,320,330,340,350,360,370,380,390,400,410,420,430,440,450,460,470,480,490,500,510,520,530,540,550,560,570,580,590,600,610,620,630,640,650,660,670,680,690,700,710,720,730,740,750,760,770,780,790,800,810,820,830,840,850,860,870,880,890,900,910,920],
        "labelExpr": "indexof([0,50,100,150,250,300,400,500,600,650,750,850,900], datum.value) >= 0 ? (datum.value == 0 ? '0.0' : datum.value + '.0u') : ''",
        "labelOffset": {"condition": {"test": "datum.value == 900", "value": -3}, "value": 0},
        "tickOpacity": {"condition": {"test": "datum.value % 50 === 0", "value": 1}, "value": 0},
        "labelOverlap": false,
        "labelFlush": false,
        "labelBound": false,
        "labelFont": "DejaVu Sans",
        "labelFontSize": 11.5,
        "labelColor": "#1a1a1a",
        "labelPadding": 2,
        "tickSize": 6,
        "tickColor": "#555555",
        "domainColor": "#a0a0a0",
        "grid": true,
        "gridColor": "#ffffff",
        "gridWidth": 1.3,
        "titleFont": "DejaVu Sans",
        "titleFontSize": 11,
        "titleFontWeight": "normal",
        "titleColor": "#222222",
        "titleX": 488,
        "titleY": 27,
        "titleAlign": "center",
        "titleBaseline": "top"
      }
    },
    "y": {
      "field": "y", "type": "quantitative",
      "scale": {"domain": [-5, 40], "nice": false, "zero": false},
      "axis": {
        "title": "Amplitude( mA)",
        "values": [-5,-2.5,0,2.5,5,7.5,10,12.5,15,17.5,20,22.5,25,27.5,30,32.5,35,37.5,40],
        "labelExpr": "'' + datum.value",
        "labelFont": "DejaVu Sans",
        "labelFontSize": 12,
        "labelColor": "#1a1a1a",
        "labelPadding": 3,
        "labelFlush": false,
        "labelOverlap": false,
        "tickSize": 5,
        "tickColor": "#555555",
        "domainColor": "#9a9a9a",
        "grid": true,
        "gridColor": "#ffffff",
        "gridWidth": 2,
        "titleFont": "DejaVu Sans",
        "titleFontSize": 14,
        "titleFontWeight": "normal",
        "titleColor": "#222222",
        "titlePadding": 5
      }
    }
  },
  "layer": [
    {"data": {"name": "white"}, "mark": {"type": "rect", "fill": "#ffffff"},
     "encoding": {"x2": {"field": "x2"}, "y2": {"field": "y2"}}},
    {"data": {"name": "border"}, "mark": {"type": "rect", "fill": "#a6a6a6"},
     "encoding": {"x2": {"field": "x2"}, "y2": {"field": "y2"}}},
    {"data": {"name": "g"}, "mark": {"type": "area", "color": "#2bef2b", "opacity": 1},
     "encoding": {"y2": {"field": "y2"}}},
    {"data": {"name": "r"}, "mark": {"type": "area", "color": "#ff4444", "opacity": 1},
     "encoding": {"y2": {"field": "y2"}}},
    {"data": {"name": "b"}, "mark": {"type": "area", "color": "#3369c4", "opacity": 1},
     "encoding": {"y2": {"field": "y2"}}},
    {"data": {"name": "box"}, "mark": {"type": "rect", "fill": "#ffffff", "stroke": "#e8453c", "strokeWidth": 1.5},
     "encoding": {"x2": {"field": "x2"}, "y2": {"field": "y2"}}},
    {"data": {"name": "t31"}, "mark": {"type": "text", "font": "Liberation Sans", "fontSize": 31, "color": "#ff1010", "align": "left", "baseline": "alphabetic"},
     "encoding": {"text": {"field": "label"}}},
    {"data": {"name": "t24"}, "mark": {"type": "text", "font": "Liberation Sans", "fontSize": 24, "color": "#ff1010", "align": "left", "baseline": "alphabetic"},
     "encoding": {"text": {"field": "label"}}},
    {"data": {"name": "t25"}, "mark": {"type": "text", "font": "Liberation Sans", "fontSize": 25, "color": "#ff1010", "align": "left", "baseline": "alphabetic"},
     "encoding": {"text": {"field": "label"}}},
    {"data": {"name": "leg"}, "mark": {"type": "rect", "fill": "#c9c9c9", "stroke": "#9a9a9a", "strokeWidth": 2},
     "encoding": {"x2": {"field": "x2"}, "y2": {"field": "y2"}}},
    {"data": {"name": "legstrip"}, "mark": {"type": "rect", "fill": "#d8d8d8"},
     "encoding": {"x2": {"field": "x2"}, "y2": {"field": "y2"}}},
    {"data": {"name": "frames"}, "mark": {"type": "rect", "fill": "#b3b3b3", "stroke": "#d6d6d6", "strokeWidth": 2},
     "encoding": {"x2": {"field": "x2"}, "y2": {"field": "y2"}}},
    {"data": {"name": "cells"}, "mark": {"type": "rect", "fill": "#dadada", "stroke": "#8e8e8e", "strokeWidth": 1.5},
     "encoding": {"x2": {"field": "x2"}, "y2": {"field": "y2"}}},
    {"data": {"name": "swatch"}, "mark": {"type": "rect", "fill": "#f2f2f2", "stroke": "#8a8a8a", "strokeWidth": 1.5},
     "encoding": {"x2": {"field": "x2"}, "y2": {"field": "y2"}}},
    {"data": {"name": "zig"}, "mark": {"type": "line", "strokeWidth": 1.5},
     "encoding": {
       "detail": {"field": "s"},
       "order": {"field": "o", "type": "quantitative"},
       "color": {"field": "s", "type": "nominal", "legend": null,
         "scale": {"domain": ["HEBT BCM01", "CCL BCM102", "MEBT BCM02"], "range": ["#3d6fd0", "#ff4d4d", "#2ee62e"]}}
     }},
    {"data": {"name": "lab"}, "mark": {"type": "text", "font": "Liberation Sans", "fontSize": 23, "fontWeight": "bold", "color": "#111111", "align": "left", "baseline": "alphabetic"},
     "encoding": {"text": {"field": "label"}}},
    {"data": {"name": "hdr"}, "mark": {"type": "text", "font": "Liberation Sans", "fontSize": 20, "color": "#111111", "align": "center", "baseline": "alphabetic"},
     "encoding": {"text": {"field": "label"}}},
    {"data": {"name": "val"}, "mark": {"type": "text", "font": "Liberation Sans", "fontSize": 21, "color": "#111111", "align": "left", "baseline": "alphabetic"},
     "encoding": {"text": {"field": "label"}}},
    {"data": {"name": "arr"}, "mark": {"type": "line", "color": "#ff3020", "strokeWidth": 3, "strokeCap": "round", "strokeJoin": "round"},
     "encoding": {"detail": {"field": "seg"}, "order": {"field": "o", "type": "quantitative"}}},
    {"data": {"name": "ell"}, "mark": {"type": "point", "shape": "M0,-1 C0.342,-1 0.62,-0.552 0.62,0 C0.62,0.552 0.342,1 0,1 C-0.342,1 -0.62,0.552 -0.62,0 C-0.62,-0.552 -0.342,-1 0,-1 Z", "size": 40000, "filled": false, "stroke": "#f02818", "strokeWidth": 4, "opacity": 1},
     "encoding": {}}
  ]
}
